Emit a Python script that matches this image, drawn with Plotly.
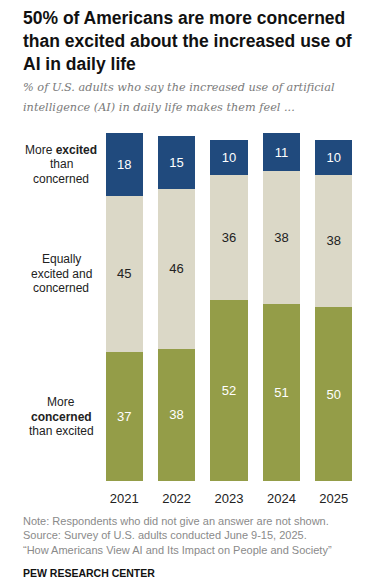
import plotly.graph_objects as go

years = ["2021", "2022", "2023", "2024", "2025"]
concerned = [37, 38, 52, 51, 50]
equal = [45, 46, 36, 38, 38]
excited = [18, 15, 10, 11, 10]

C_BLUE = "#204a7d"
C_BEIGE = "#dbd8c7"
C_GREEN = "#949d48"
FONT = "Liberation Sans, Arial, sans-serif"

fig = go.Figure()
series = [
    ("More concerned than excited", concerned, C_GREEN, "white"),
    ("Equally excited and concerned", equal, C_BEIGE, "#222222"),
    ("More excited than concerned", excited, C_BLUE, "white"),
]
for name, vals, col, tcol in series:
    fig.add_trace(go.Bar(
        x=years, y=vals, name=name, marker=dict(color=col, line=dict(width=0)),
        text=[str(v) for v in vals], textposition="inside", insidetextanchor="middle",
        textfont=dict(color=tcol, size=13, family=FONT), textangle=0,
        hoverinfo="skip",
    ))

# page body adds an 8px offset; compensate so the figure fills the window
OFF = 8
W, H = 387 - OFF, 584 - OFF
L, R, T, B = 98.4 - OFF, 359.6 - OFF, 133 - OFF, 481 - OFF

def px(x):
    return (x - OFF - L) / (R - L)

def py(y):
    return (B - (y - OFF)) / (B - T)

ann = []
ann.append(dict(text="50% of Americans are more concerned<br>than excited about the increased use of<br>AI in daily life",
                x=px(22), y=py(6), xref="paper", yref="paper", xanchor="left", yanchor="top",
                align="left", showarrow=False,
                font=dict(family=FONT, size=17.5, color="#111111", weight="bold")))
sub_lines = ["% of U.S. adults who say the increased use of artificial",
             "intelligence (AI) in daily life makes them feel ..."]
for i, s in enumerate(sub_lines):
    ann.append(dict(text="<i>" + s + "</i>",
                    x=px(22), y=py(88 + 19 * i), xref="paper", yref="paper", xanchor="left", yanchor="middle",
                    align="left", showarrow=False,
                    font=dict(family="DejaVu Serif, Georgia, serif", size=11.3, color="#7a7a7a")))

side = [
    (["More <b>excited</b>", "than", "concerned"], concerned[0] + equal[0] + excited[0] / 2),
    (["Equally", "excited and", "concerned"], concerned[0] + equal[0] / 2),
    (["More", "<b>concerned</b>", "than excited"], concerned[0] / 2),
]
step = 14.5 / 3.48
for lines, yv in side:
    for j, ln in enumerate(lines):
        ann.append(dict(text=ln, x=px(62), y=yv + step * (1 - j), xref="paper", yref="y",
                        xanchor="center", yanchor="middle", align="center", showarrow=False,
                        font=dict(family=FONT, size=12, color="#222222")))

ann.append(dict(text="Note: Respondents who did not give an answer are not shown.<br>Source: Survey of U.S. adults conducted June 9-15, 2025.<br>\u201cHow Americans View AI and Its Impact on People and Society\u201d",
                x=px(22), y=py(513), xref="paper", yref="paper", xanchor="left", yanchor="top",
                align="left", showarrow=False,
                font=dict(family=FONT, size=11, color="#8a8a8a")))
ann.append(dict(text="<b>PEW RESEARCH CENTER</b>",
                x=px(22), y=py(565), xref="paper", yref="paper", xanchor="left", yanchor="top",
                align="left", showarrow=False,
                font=dict(family=FONT, size=10.5, color="#111111")))

fig.update_layout(
    barmode="stack", bargap=0.29, width=W, height=H,
    margin=dict(l=L, r=W - R, t=T, b=H - B, pad=0),
    paper_bgcolor="white", plot_bgcolor="white", showlegend=False,
    annotations=ann, uniformtext=dict(mode=False),
    xaxis=dict(range=[-0.5, 4.5], showline=False, showgrid=False, ticks="", ticklabelstandoff=8,
               tickfont=dict(family=FONT, size=13, color="#222222"), fixedrange=True),
    yaxis=dict(range=[0, 100], visible=False, fixedrange=True),
)
fig.write_html("out.html", config={"displayModeBar": False})
